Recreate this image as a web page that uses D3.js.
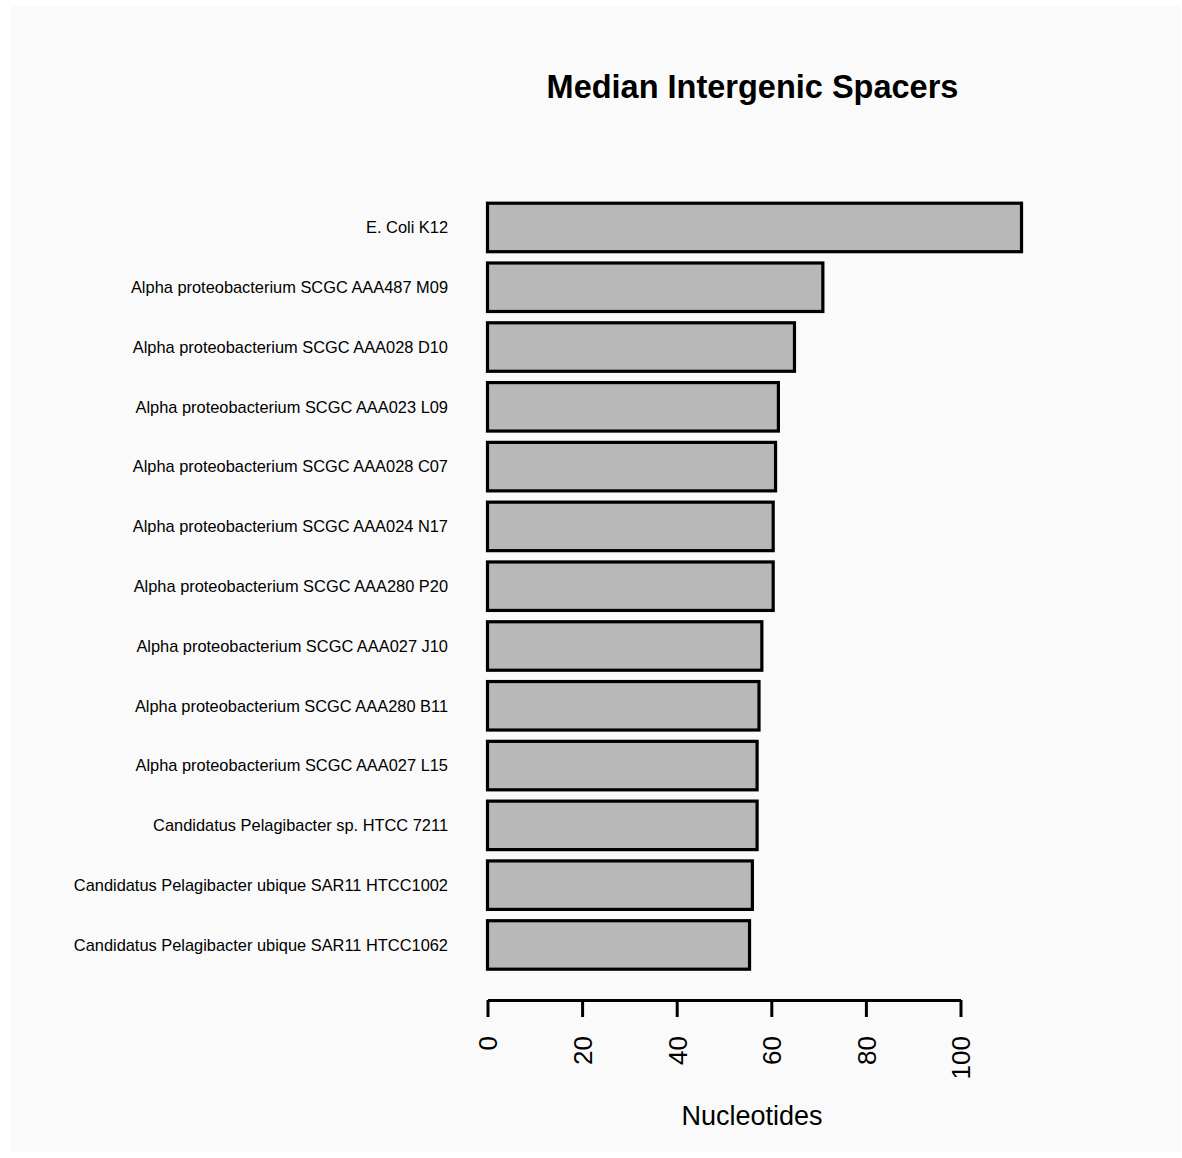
<!DOCTYPE html>
<html>
<head>
<meta charset="utf-8">
<script src="https://cdn.jsdelivr.net/npm/d3@7"></script>
<style>
  html, body { margin: 0; padding: 0; background: #ffffff; }
  svg { display: block; }
  text { font-family: "Liberation Sans", Arial, Helvetica, sans-serif; fill: #000; }
</style>
</head>
<body>
<svg id="chart" width="1182" height="1158"></svg>
<script>
// Genomes, top to bottom
const genomes = [
  "E. Coli K12",
  "Alpha proteobacterium SCGC AAA487 M09",
  "Alpha proteobacterium SCGC AAA028 D10",
  "Alpha proteobacterium SCGC AAA023 L09",
  "Alpha proteobacterium SCGC AAA028 C07",
  "Alpha proteobacterium SCGC AAA024 N17",
  "Alpha proteobacterium SCGC AAA280 P20",
  "Alpha proteobacterium SCGC AAA027 J10",
  "Alpha proteobacterium SCGC AAA280 B11",
  "Alpha proteobacterium SCGC AAA027 L15",
  "Candidatus Pelagibacter sp. HTCC 7211",
  "Candidatus Pelagibacter ubique SAR11 HTCC1002",
  "Candidatus Pelagibacter ubique SAR11 HTCC1062"
];

// Median intergenic spacer length (nucleotides)
const medianSpacer = [112.9, 70.9, 64.9, 61.5, 60.9, 60.4, 60.4, 58.0, 57.4, 57.0, 57.0, 56.0, 55.4];

const xTicks = [0, 20, 40, 60, 80, 100];

const svg = d3.select("#chart");

// light panel
svg.append("rect")
  .attr("x", 11).attr("y", 6)
  .attr("width", 1170).attr("height", 1146)
  .attr("fill", "#fafafa");

const x = d3.scaleLinear().domain([0, 100]).range([487.5, 960.5]);
const y = d3.scaleBand()
  .domain(genomes)
  .range([203.2, 969.2])
  .paddingInner(0.189)
  .paddingOuter(0);

const rows = genomes.map((g, i) => ({ name: g, value: medianSpacer[i] }));

// bars
svg.append("g")
  .selectAll("rect")
  .data(rows)
  .join("rect")
  .attr("x", x(0))
  .attr("y", d => y(d.name))
  .attr("width", d => x(d.value) - x(0))
  .attr("height", y.bandwidth())
  .attr("fill", "#b8b8b8")
  .attr("stroke", "#000")
  .attr("stroke-width", 3.2);

// category labels
svg.append("g")
  .selectAll("text")
  .data(rows)
  .join("text")
  .attr("x", 448)
  .attr("y", d => y(d.name) + y.bandwidth() / 2)
  .attr("dy", "0.35em")
  .attr("text-anchor", "end")
  .attr("font-size", 16.4)
  .text(d => d.name);

// x axis
const axis = d3.axisBottom(x)
  .tickValues(xTicks)
  .tickSize(17)
  .tickSizeOuter(0)
  .tickFormat(d3.format("d"));

const ax = svg.append("g")
  .attr("transform", "translate(0,1000)")
  .call(axis);

ax.select(".domain").attr("stroke", "#000").attr("stroke-width", 3);
ax.selectAll(".tick line").attr("stroke", "#000").attr("stroke-width", 3);
ax.selectAll(".tick text")
  .attr("transform", "rotate(-90)")
  .attr("x", -36)
  .attr("y", 0)
  .attr("dy", "0.36em")
  .attr("text-anchor", "end")
  .attr("font-size", 26)
  .attr("font-family", "Liberation Sans, Arial, sans-serif")
  .attr("fill", "#000");

// axis title
svg.append("text")
  .attr("x", 752)
  .attr("y", 1125)
  .attr("text-anchor", "middle")
  .attr("font-size", 27)
  .text("Nucleotides");

// chart title
svg.append("text")
  .attr("x", 752.5)
  .attr("y", 98)
  .attr("text-anchor", "middle")
  .attr("font-size", 32.5)
  .attr("font-weight", "bold")
  .text("Median Intergenic Spacers");
</script>
</body>
</html>
